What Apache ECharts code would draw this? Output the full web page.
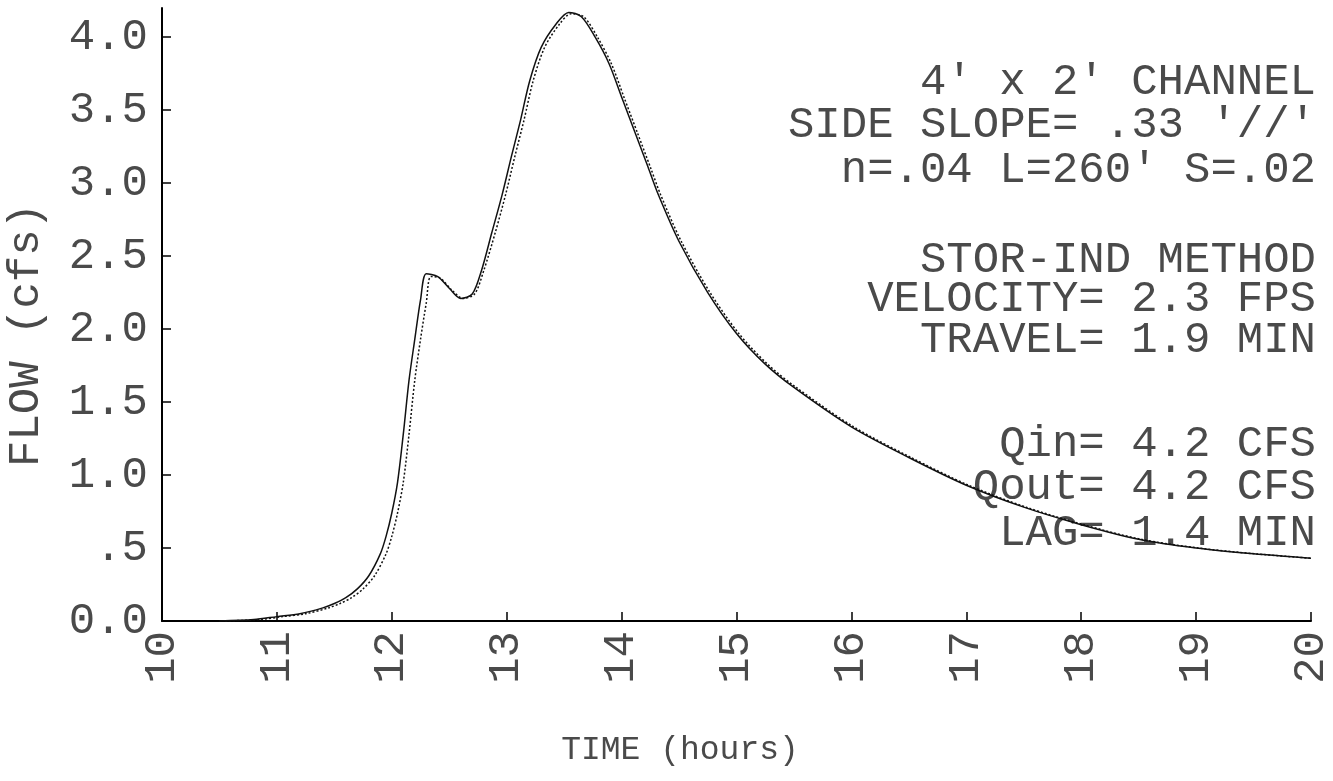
<!DOCTYPE html>
<html>
<head>
<meta charset="utf-8">
<title>Channel routing hydrograph</title>
<script src="https://cdn.jsdelivr.net/npm/echarts@6/dist/echarts.min.js"></script>
<style>
  html, body { margin: 0; padding: 0; background: #fff; }
  #chart { width: 1333px; height: 781px; }
</style>
</head>
<body>
<div id="chart"></div>
<script>
// inflow hydrograph (solid)
var timeIn = [10.5, 10.8, 11.0, 11.2, 11.4, 11.5, 11.6, 11.7, 11.8, 11.9, 11.95, 12.0, 12.05, 12.1, 12.15, 12.2, 12.25, 12.3, 12.4, 12.5, 12.6, 12.7, 12.78, 12.87, 12.96, 13.04, 13.12, 13.2, 13.3, 13.43, 13.54, 13.65, 13.77, 13.89, 14.0, 14.12, 14.23, 14.32, 14.5, 14.75, 15.0, 15.25, 15.5, 16.0, 16.5, 17.0, 17.5, 18.0, 18.5, 19.0, 19.5, 20.0];
var flowIn = [0, 0.01, 0.03, 0.05, 0.09, 0.12, 0.16, 0.22, 0.31, 0.46, 0.58, 0.74, 0.95, 1.28, 1.65, 1.93, 2.2, 2.38, 2.36, 2.28, 2.21, 2.24, 2.40, 2.66, 2.92, 3.18, 3.43, 3.7, 3.93, 4.09, 4.17, 4.14, 4.0, 3.82, 3.59, 3.34, 3.11, 2.92, 2.6, 2.25, 1.97, 1.76, 1.6, 1.33, 1.12, 0.93, 0.78, 0.66, 0.56, 0.5, 0.46, 0.43];

// outflow hydrograph (dotted), lags a little behind
var timeOut = [10.55, 10.85, 11.05, 11.25, 11.45, 11.55, 11.65, 11.75, 11.85, 11.95, 12.0, 12.05, 12.1, 12.15, 12.2, 12.25, 12.3, 12.34, 12.42, 12.52, 12.62, 12.72, 12.8, 12.9, 12.99, 13.07, 13.15, 13.23, 13.33, 13.46, 13.56, 13.67, 13.79, 13.91, 14.02, 14.14, 14.25, 14.34, 14.52, 14.77, 15.02, 15.27, 15.52, 16.02, 16.52, 17.02, 17.52, 18.02, 18.52, 19.02, 19.52, 20.0];
var flowOut = [0, 0.01, 0.03, 0.05, 0.09, 0.12, 0.16, 0.22, 0.31, 0.46, 0.58, 0.74, 0.95, 1.28, 1.65, 1.93, 2.18, 2.36, 2.35, 2.27, 2.21, 2.24, 2.40, 2.66, 2.92, 3.18, 3.43, 3.7, 3.93, 4.09, 4.16, 4.14, 4.0, 3.82, 3.59, 3.34, 3.11, 2.92, 2.6, 2.25, 1.97, 1.76, 1.6, 1.33, 1.12, 0.93, 0.78, 0.66, 0.56, 0.5, 0.46, 0.43];

var yTickValues = [0, 0.5, 1.0, 1.5, 2.0, 2.5, 3.0, 3.5, 4.0];
var yTickLabels = ['0.0', '.5', '1.0', '1.5', '2.0', '2.5', '3.0', '3.5', '4.0'];

var noteLines = [
    '4′ x 2′ CHANNEL',
    'SIDE SLOPE= .33 ′//′',
    'n=.04 L=260′ S=.02',
    'STOR-IND METHOD',
    'VELOCITY= 2.3 FPS',
    'TRAVEL= 1.9 MIN',
    'Qin= 4.2 CFS',
    'Qout= 4.2 CFS',
    'LAG= 1.4 MIN'
];
var noteY = [82, 125, 170, 260, 299, 340, 444, 487, 533];

var FONT = 'Liberation Mono';
var INK = '#4a4a4a';

function zip(xs, ys) {
    var out = [];
    for (var i = 0; i < xs.length; i++) out.push([xs[i], ys[i]]);
    return out;
}

var graphics = [];
noteLines.forEach(function (t, i) {
    graphics.push({
        type: 'text',
        x: 1316,
        y: noteY[i],
        style: {
            text: t,
            align: 'right',
            verticalAlign: 'middle',
            fontFamily: FONT,
            fontSize: 44,
            fill: INK
        }
    });
});
// axis titles
graphics.push({
    type: 'text',
    x: 26, y: 335,
    rotation: Math.PI / 2,
    style: { text: 'FLOW (cfs)', align: 'center', verticalAlign: 'middle', fontFamily: FONT, fontSize: 44, fill: INK }
});
graphics.push({
    type: 'text',
    x: 680, y: 750,
    style: { text: 'TIME (hours)', align: 'center', verticalAlign: 'middle', fontFamily: FONT, fontSize: 33, fill: INK }
});

var chart = echarts.init(document.getElementById('chart'));
chart.setOption({
    animation: false,
    backgroundColor: '#fff',
    grid: { left: 162, right: 17, top: 8, bottom: 160 },
    xAxis: {
        type: 'value',
        min: 10, max: 20, interval: 1,
        axisLine: { lineStyle: { color: '#000', width: 2 } },
        axisTick: { inside: true, length: 9, lineStyle: { color: '#000', width: 1.5 } },
        axisLabel: { rotate: 90, margin: 10, fontFamily: FONT, fontSize: 44, color: INK },
        splitLine: { show: false }
    },
    yAxis: {
        type: 'value',
        min: 0, max: 4.2,
        axisLine: { show: true, lineStyle: { color: '#000', width: 2 } },
        axisTick: { show: true, inside: true, length: 9, customValues: yTickValues, lineStyle: { color: '#000', width: 1.5 } },
        axisLabel: {
            customValues: yTickValues,
            margin: 14,
            fontFamily: FONT, fontSize: 44, color: INK,
            formatter: function (v) {
                var i = yTickValues.indexOf(v);
                return i >= 0 ? yTickLabels[i] : '';
            }
        },
        splitLine: { show: false }
    },
    series: [
        {
            name: 'Qin',
            type: 'line',
            data: zip(timeIn, flowIn),
            showSymbol: false,
            smooth: 0.3,
            lineStyle: { color: '#111', width: 1.5 }
        },
        {
            name: 'Qout',
            type: 'line',
            data: zip(timeOut, flowOut),
            showSymbol: false,
            smooth: 0.3,
            lineStyle: { color: '#111', width: 1.5, type: [2, 2] }
        }
    ],
    graphic: graphics
});
</script>
</body>
</html>
